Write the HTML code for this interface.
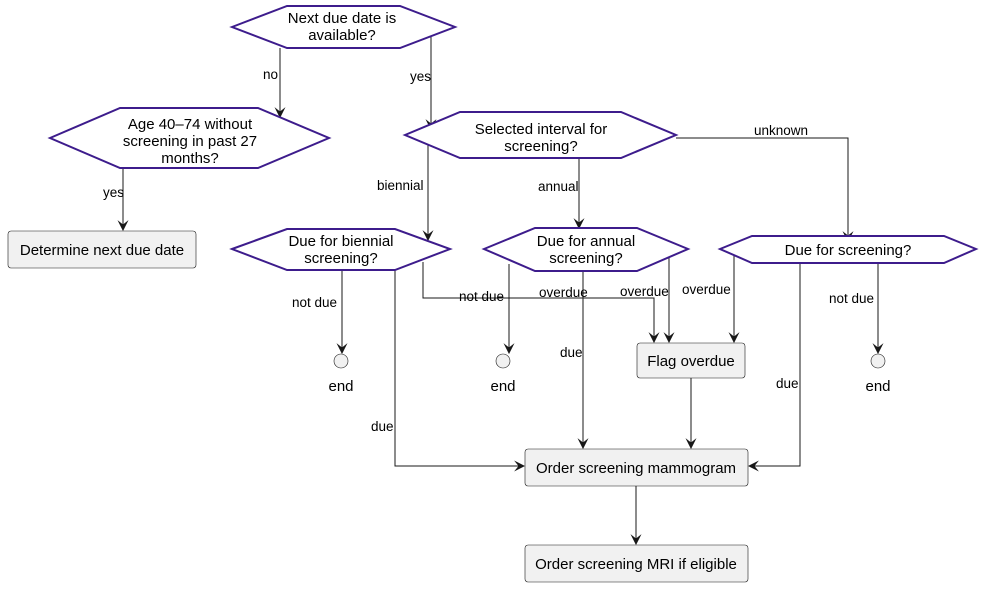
<!DOCTYPE html>
<html><head><style>
body{margin:0;background:#fff;}
svg text{font-family:"Liberation Sans","DejaVu Sans",sans-serif;}
</style></head><body>
<svg width="991" height="587" viewBox="0 0 991 587" xmlns="http://www.w3.org/2000/svg">
<defs>
<marker id="a" viewBox="0 0 10 10" refX="9" refY="5" markerWidth="11" markerHeight="11" markerUnits="userSpaceOnUse" orient="auto">
<path d="M0,0 L10,5 L0,10 L4,5 Z" fill="#181818"/>
</marker>
</defs>
<g fill="none" stroke="#181818" stroke-width="1">
<path d="M280,48 V117" marker-end="url(#a)"/>
<path d="M431,36 V129" marker-end="url(#a)"/>
<path d="M123,168 V230" marker-end="url(#a)"/>
<path d="M428,145 V240" marker-end="url(#a)"/>
<path d="M579,158 V228" marker-end="url(#a)"/>
<path d="M676,138 H848 V241" marker-end="url(#a)"/>
<path d="M342,270 V353" marker-end="url(#a)"/>
<path d="M423,262 V298 H654 V342" marker-end="url(#a)"/>
<path d="M395,270 V466 H524" marker-end="url(#a)"/>
<path d="M509,264 V353" marker-end="url(#a)"/>
<path d="M583,271 V448" marker-end="url(#a)"/>
<path d="M669,257 V342" marker-end="url(#a)"/>
<path d="M734,252 V342" marker-end="url(#a)"/>
<path d="M800,263 V466 H749" marker-end="url(#a)"/>
<path d="M878,263 V353" marker-end="url(#a)"/>
<path d="M691,378 V448" marker-end="url(#a)"/>
<path d="M636,486 V544" marker-end="url(#a)"/>
</g>
<g fill="#fff" stroke="#3d1c8c" stroke-width="2">
<polygon points="232,27 287,6 400,6 455,27 400,48 287,48"/>
<polygon points="50,138 120,108 258,108 329,138 258,168 120,168"/>
<polygon points="405,135 460,112 621,112 676,135 621,158 460,158"/>
<polygon points="232,249 287,229 395,229 450,249 395,270 287,270"/>
<polygon points="484,249 535,228 637,228 688,249 637,271 535,271"/>
<polygon points="720,249 752,236 944,236 976,249 944,263 752,263"/>
</g>
<g fill="#f1f1f1" stroke="#181818" stroke-width="0.6">
<rect x="8" y="231" width="188" height="37" rx="3"/>
<rect x="637" y="343" width="108" height="35" rx="3"/>
<rect x="525" y="449" width="223" height="37" rx="3"/>
<rect x="525" y="545" width="223" height="37" rx="3"/>
<circle cx="341" cy="361" r="7"/>
<circle cx="503" cy="361" r="7"/>
<circle cx="878" cy="361" r="7"/>
</g>
<g font-size="15" fill="#000" text-anchor="middle">
<text x="342" y="23">Next due date is</text>
<text x="342" y="40">available?</text>
<text x="190" y="129">Age 40–74 without</text>
<text x="190" y="146">screening in past 27</text>
<text x="190" y="163">months?</text>
<text x="541" y="134">Selected interval for</text>
<text x="541" y="151">screening?</text>
<text x="341" y="246">Due for biennial</text>
<text x="341" y="263">screening?</text>
<text x="586" y="246">Due for annual</text>
<text x="586" y="263">screening?</text>
<text x="848" y="255">Due for screening?</text>
<text x="102" y="255">Determine next due date</text>
<text x="691" y="366">Flag overdue</text>
<text x="636" y="473">Order screening mammogram</text>
<text x="636" y="569">Order screening MRI if eligible</text>
<text x="341" y="391">end</text>
<text x="503" y="391">end</text>
<text x="878" y="391">end</text>
</g>
<g font-size="13.5" fill="#000">
<text x="263" y="79">no</text>
<text x="410" y="81">yes</text>
<text x="103" y="197">yes</text>
<text x="377" y="190">biennial</text>
<text x="538" y="191">annual</text>
<text x="754" y="135">unknown</text>
<text x="292" y="307">not due</text>
<text x="459" y="301">not due</text>
<text x="539" y="297">overdue</text>
<text x="620" y="296">overdue</text>
<text x="682" y="294">overdue</text>
<text x="560" y="357">due</text>
<text x="371" y="431">due</text>
<text x="776" y="388">due</text>
<text x="829" y="303">not due</text>
</g>
</svg>
</body></html>
